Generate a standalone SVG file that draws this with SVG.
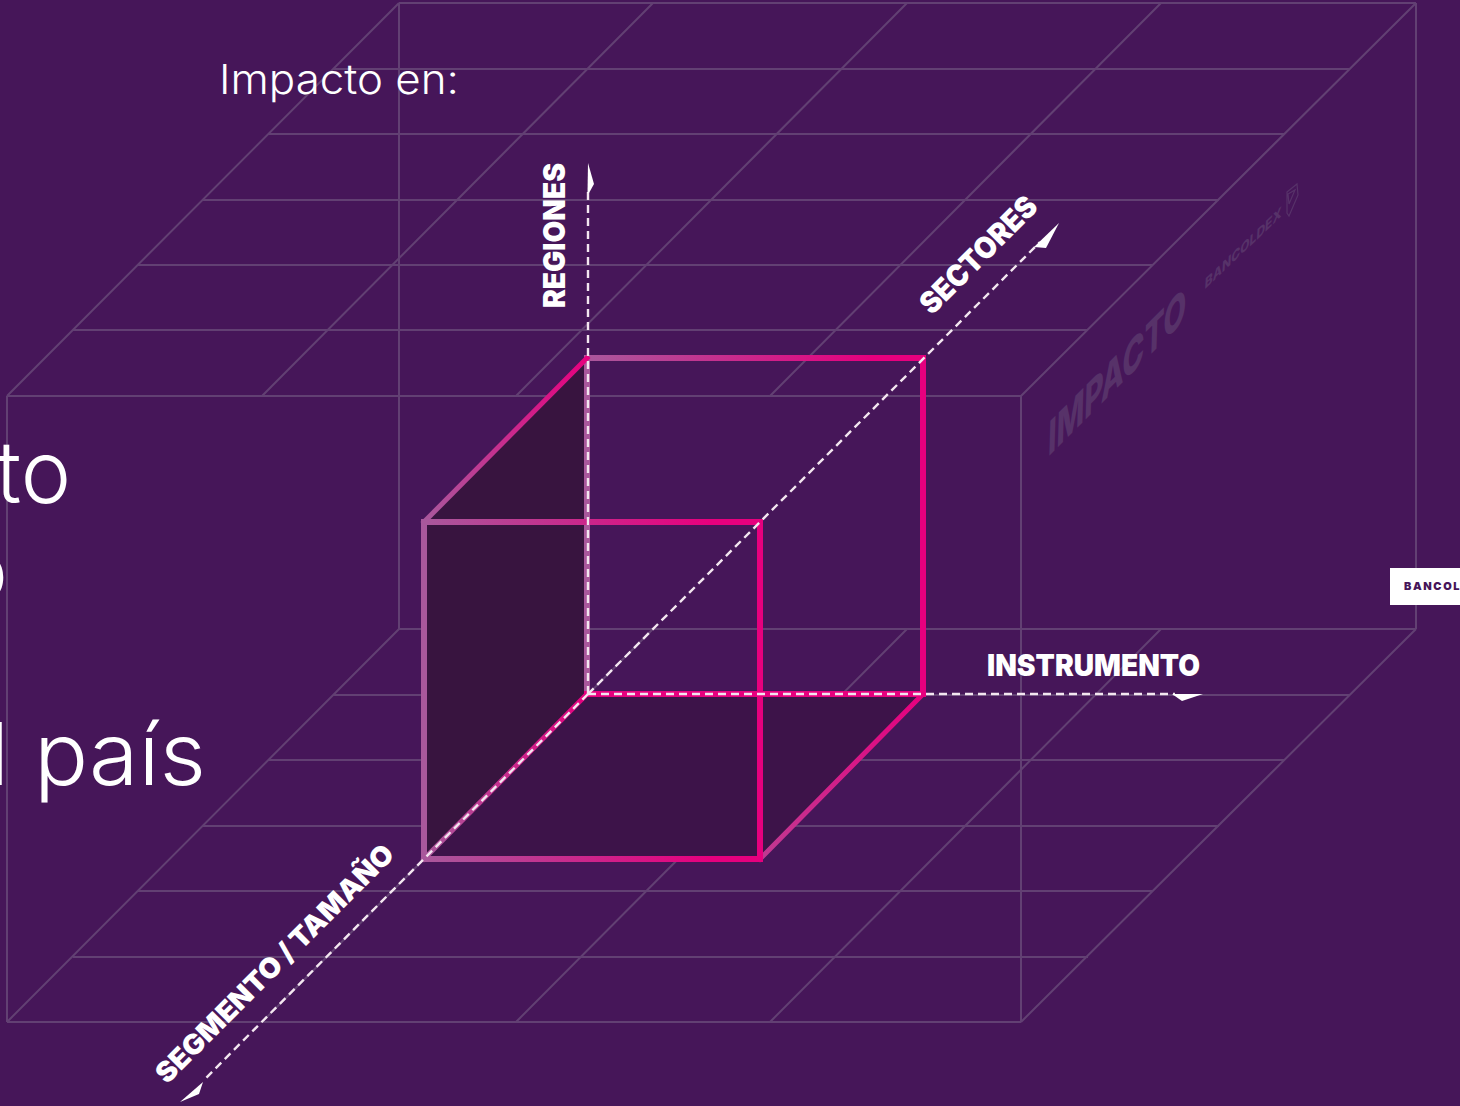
<svg xmlns="http://www.w3.org/2000/svg" width="1460" height="1106" viewBox="0 0 1460 1106">
<style>
.g{stroke:#624073;stroke-width:2;fill:none}
.e{stroke-width:6;fill:none;stroke-linecap:square}
.f{stroke-width:5;fill:none;stroke-linecap:square}
.d{stroke:#f3e6f0;stroke-width:2.4;fill:none;stroke-dasharray:8 5}
.a{fill:#fff}
.l{font-family:"Inter","Liberation Sans",sans-serif;font-weight:900;fill:#fff}
.t{font-family:"Inter","Open Sans",sans-serif;font-weight:300;fill:#fff}
.w{font-family:"Inter","Liberation Sans",sans-serif;font-weight:800;font-style:italic;fill:#573269}
</style>
<defs>
<linearGradient id="h1" gradientUnits="userSpaceOnUse" x1="424" y1="0" x2="760" y2="0"><stop offset="0" stop-color="#a9589c"/><stop offset="0.85" stop-color="#e6007e"/></linearGradient>
<linearGradient id="h2" gradientUnits="userSpaceOnUse" x1="587" y1="0" x2="923" y2="0"><stop offset="0" stop-color="#a9589c"/><stop offset="0.85" stop-color="#e6007e"/></linearGradient>
<linearGradient id="d1" gradientUnits="userSpaceOnUse" x1="424" y1="522" x2="587" y2="358"><stop offset="0" stop-color="#a9589c"/><stop offset="1" stop-color="#e6007e"/></linearGradient>
<linearGradient id="d2" gradientUnits="userSpaceOnUse" x1="923" y1="694" x2="760" y2="859"><stop offset="0" stop-color="#e6007e"/><stop offset="1" stop-color="#c03a92"/></linearGradient>
<linearGradient id="d3" gradientUnits="userSpaceOnUse" x1="424" y1="859" x2="587" y2="694"><stop offset="0" stop-color="#a9589c"/><stop offset="1" stop-color="#e6007e"/></linearGradient>
</defs>
<rect width="1460" height="1106" fill="#461659"/>
<g id="grid">
<path class="g" d="M399 3H1416M333 69H1350M268 134H1284M203 200H1219M138 265H1153M73 330H1088M7 396H1021"/>
<path class="g" d="M399 3L7 396M653 3L262 396M907 3L516 396M1161 3L770 396M1416 3L1021 396"/>
<path class="g" d="M399 629H1416M333 695H1350M268 760H1284M203 826H1219M138 891H1153M73 957H1088M7 1022H1021"/>
<path class="g" d="M399 629L7 1022M653 629L262 1022M907 629L516 1022M1161 629L770 1022M1416 629L1021 1022"/>
<path class="g" d="M7 396V1022M399 3V629M1021 396V1022M1416 3V629"/>
</g>
<g id="watermark">
<text class="w" font-size="43" textLength="138" lengthAdjust="spacingAndGlyphs" transform="matrix(1 -1 .08 1 1049 456)">IMPACTO</text>
<text class="w" font-size="13" textLength="77" lengthAdjust="spacingAndGlyphs" transform="matrix(1 -.95 .08 1 1205 289)">BANCOLDEX</text>
<path d="M1287 192L1297 184L1298 195L1289 216L1287 213Z M1288 194L1295 190L1289 204Z" fill="none" stroke="#573269" stroke-width="1.2"/>
</g>
<g id="cube">
<path d="M424 522L587 358V694L424 859Z" fill="#38143f"/>
<path d="M424 859L587 694H923L760 859Z" fill="#3d1349"/>
<path class="e" stroke="#a9589c" d="M587 358V694"/>
<path class="e" stroke="url(#h2)" d="M587 358H923"/>
<path class="e" stroke="#e6007e" d="M923 358V694H587"/>
<path class="f" stroke="url(#d1)" d="M424 522L587 358"/>
<path class="f" stroke="url(#d2)" d="M923 694L760 859"/>
<path class="f" stroke="url(#d3)" d="M424 859L587 694"/>
<path class="e" stroke="url(#h1)" d="M424 522H760"/>
<path class="e" stroke="url(#h1)" d="M424 859H760"/>
<path class="e" stroke="#a9589c" d="M424 522V859"/>
<path class="e" stroke="#e6007e" d="M760 522V859"/>
</g>
<g id="connectors">
<path class="d" d="M588 694V190"/>
<path class="d" d="M588 694H1175"/>
<path class="d" d="M588 694L1040 242"/>
<path class="d" d="M588 694L203 1081"/>
<path class="a" d="M588 163L594 184L589 193L587.5 193Z"/>
<path class="a" d="M1203 694L1182 701L1172 694Z"/>
<path class="a" d="M1059 223L1046 248L1034 247Z"/>
<path class="a" d="M180 1102L203 1082L199 1094Z"/>
</g>
<g id="labels">
<text class="t" x="219" y="94" font-size="41" textLength="240" lengthAdjust="spacingAndGlyphs">Impacto en:</text>
<text class="t" x="-4" y="503" font-size="86" textLength="75" lengthAdjust="spacingAndGlyphs">to</text>
<text class="t" x="8" y="601" font-size="86" text-anchor="end">o</text>
<text class="t" x="-6" y="785" font-size="86" textLength="12" lengthAdjust="spacingAndGlyphs">l</text>
<text class="t" x="34" y="785" font-size="86" textLength="172" lengthAdjust="spacingAndGlyphs">país</text>
<text class="l" font-size="30" textLength="145" lengthAdjust="spacingAndGlyphs" transform="translate(565 308) rotate(-90)">REGIONES</text>
<text class="l" font-size="30" textLength="152" lengthAdjust="spacingAndGlyphs" transform="translate(932 316) rotate(-45)">SECTORES</text>
<text class="l" font-size="28" textLength="324" lengthAdjust="spacingAndGlyphs" transform="translate(167 1085) rotate(-45)">SEGMENTO / TAMAÑO</text>
<text class="l" x="987" y="676" font-size="30" textLength="213" lengthAdjust="spacingAndGlyphs">INSTRUMENTO</text>
</g>
<g id="tag">
<rect x="1390" y="568" width="70" height="37" fill="#fff"/>
<text x="1404" y="590" font-family="'Inter','Liberation Sans',sans-serif" font-weight="900" font-size="11" letter-spacing="1.6" fill="#461659">BANCOL</text>
</g>
</svg>
